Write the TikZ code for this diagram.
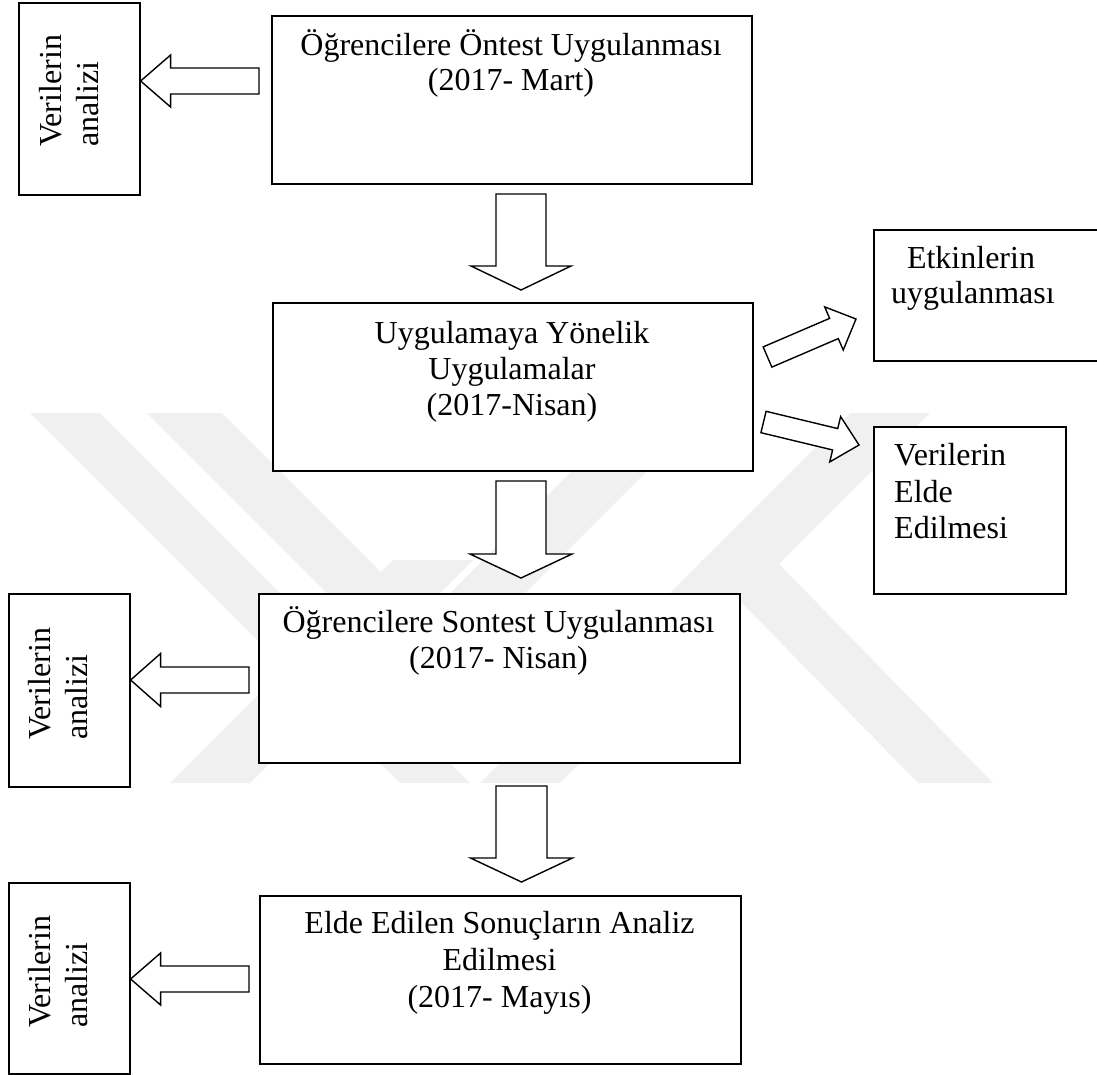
\documentclass[tikz,border=0pt]{standalone}
\usepackage{fontspec}
\setmainfont{Liberation Serif}
\usetikzlibrary{calc}
\newcommand{\blockarrow}[5]{%
  \coordinate (ba-b) at ($(#2)!#5!(#1)$);
  \draw[barrow] ($(#1)!#3!90:(#2)$) -- ($(ba-b)!#3!-90:(#1)$) -- ($(ba-b)!#4!-90:(#1)$) -- (#2)
    -- ($(ba-b)!#4!90:(#1)$) -- ($(ba-b)!#3!90:(#1)$) -- ($(#1)!#3!-90:(#2)$) -- cycle;}
\begin{document}
\begin{tikzpicture}[x=1pt,y=-1pt,
  box/.style={draw, line width=1.6pt, fill=white, inner sep=0pt, anchor=north west},
  txt/.style={font=\fontsize{32}{36}\selectfont, inner sep=0pt, anchor=base},
  ltxt/.style={txt, anchor=base west},
  rtxt/.style={txt, anchor=base west, rotate=90},
  barrow/.style={draw, line width=1.4pt, fill=white, line join=miter},
  wm/.style={fill=black!6, draw=none}]
\useasboundingbox (0,0) rectangle (1097,1074);
% faint background watermark
\begin{scope}
\clip (0,413) rectangle (1097,783);
\fill[wm] (30,413) -- (100,413) -- (470,783) -- (400,783) -- cycle;
\fill[wm] (147,413) -- (426,692) -- (705,413) -- (630,413) -- (426,617) -- (222,413) -- cycle;
\fill[wm] (850,413) -- (930,413) -- (560,783) -- (480,783) -- cycle;
\fill[wm] (700,560) -- (775,560) -- (993,783) -- (918,783) -- cycle;
\fill[wm] (170,783) -- (250,783) -- (473,560) -- (393,560) -- cycle;
\end{scope}
% boxes
\node[box, minimum width=480pt, minimum height=168pt] (b1) at (271,15) {};
\node[box, minimum width=480pt, minimum height=168pt] (b2) at (272,302) {};
\node[box, minimum width=481pt, minimum height=169pt] (b3) at (258,593) {};
\node[box, minimum width=481pt, minimum height=168pt] (b4) at (259,895) {};
\node[box, minimum width=121pt, minimum height=192pt] (v1) at (18,2) {};
\node[box, minimum width=121pt, minimum height=193pt] (v2) at (8,593) {};
\node[box, minimum width=121pt, minimum height=191pt] (v3) at (8,882) {};
\node[box, minimum width=240pt, minimum height=131pt] (etk) at (873,229) {};
\node[box, minimum width=192pt, minimum height=167pt] (ve) at (873,426) {};
% texts
\node[txt] (b1a) at (511,55) {Öğrencilere Öntest Uygulanması};
\node[txt] (b1b) at (511,90) {(2017- Mart)};
\node[txt] (b2a) at (512,343) {Uygulamaya Yönelik};
\node[txt] (b2b) at (512,379) {Uygulamalar};
\node[txt] (b2c) at (512,415) {(2017-Nisan)};
\node[txt] (b3a) at (498.5,632) {Öğrencilere Sontest Uygulanması};
\node[txt] (b3b) at (498.5,668) {(2017- Nisan)};
\node[txt] (b4a) at (499.5,933) {Elde Edilen Sonuçların Analiz};
\node[txt] (b4b) at (499.5,970) {Edilmesi};
\node[txt] (b4c) at (499.5,1007) {(2017- Mayıs)};
\node[txt] (ea) at (971,268) {Etkinlerin};
\node[txt] (eb) at (973,303) {uygulanması};
\node[ltxt] (vea) at (894,465) {Verilerin};
\node[ltxt] (veb) at (894,502) {Elde};
\node[ltxt] (vec) at (894,538) {Edilmesi};
\node[rtxt] (v1a) at (61,147) {Verilerin};
\node[rtxt] (v1b) at (98,147) {analizi};
\node[rtxt] (v2a) at (50,740) {Verilerin};
\node[rtxt] (v2b) at (87.5,740) {analizi};
\node[rtxt] (v3a) at (50,1028) {Verilerin};
\node[rtxt] (v3b) at (87,1028) {analizi};
% arrow end points
\coordinate (l1t) at (259,81);   \coordinate (l1h) at (v1.east |- l1t);
\coordinate (l2t) at (249,680);  \coordinate (l2h) at (v2.east |- l2t);
\coordinate (l3t) at (249,979);  \coordinate (l3h) at (v3.east |- l3t);
\coordinate (d1t) at (521,194);  \coordinate (d1h) at (521,290);
\coordinate (d2t) at (521,481);  \coordinate (d2h) at (521,578);
\coordinate (d3t) at (521.5,786); \coordinate (d3h) at (521.5,882);
\coordinate (r1t) at (767.5,357); \coordinate (r1h) at (856,319);
\coordinate (r2t) at (763.5,422); \coordinate (r2h) at (859,445);
% block arrows
\blockarrow{l1t}{l1h}{13pt}{26pt}{30pt}
\blockarrow{l2t}{l2h}{13pt}{26.5pt}{30pt}
\blockarrow{l3t}{l3h}{13pt}{26pt}{30pt}
\blockarrow{d1t}{d1h}{25pt}{50pt}{24pt}
\blockarrow{d2t}{d2h}{25pt}{51pt}{24pt}
\blockarrow{d3t}{d3h}{25.5pt}{51pt}{24pt}
\blockarrow{r1t}{r1h}{11pt}{23.5pt}{24pt}
\blockarrow{r2t}{r2h}{11pt}{23.3pt}{24.5pt}
\end{tikzpicture}
\end{document}
